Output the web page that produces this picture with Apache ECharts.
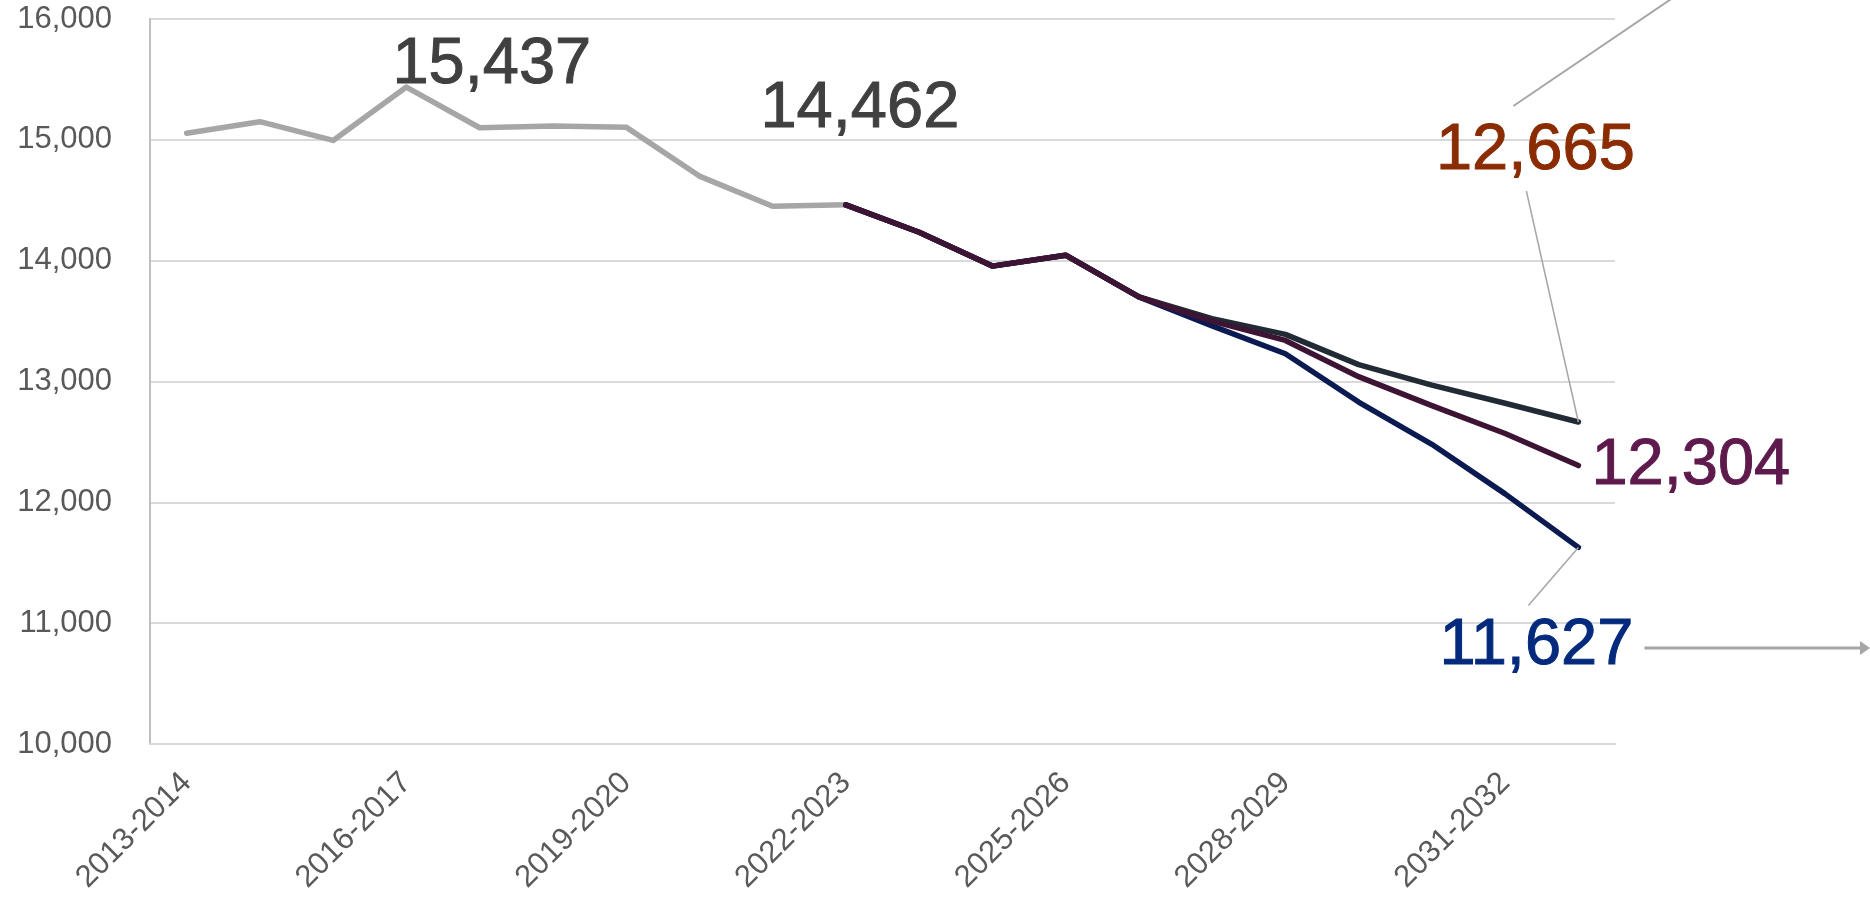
<!DOCTYPE html>
<html>
<head>
<meta charset="utf-8">
<script src="https://cdn.jsdelivr.net/npm/echarts@6/dist/echarts.min.js"></script>
<style>
html,body{margin:0;padding:0;background:#fff;}
#chart{width:1870px;height:900px;}
</style>
</head>
<body>
<div id="chart"></div>
<script>
const categories = ['2013-2014','2014-2015','2015-2016','2016-2017','2017-2018','2018-2019','2019-2020','2020-2021','2021-2022','2022-2023','2023-2024','2024-2025','2025-2026','2026-2027','2027-2028','2028-2029','2029-2030','2030-2031','2031-2032','2032-2033'];
const historical = [15055, 15150, 14995, 15437, 15100, 15115, 15105, 14700, 14450, 14462, null, null, null, null, null, null, null, null, null, null];
const projHigh = [null, null, null, null, null, null, null, null, null, 14462, 14235, 13955, 14045, 13700, 13520, 13390, 13140, 12970, 12820, 12665];
const projMid  = [null, null, null, null, null, null, null, null, null, 14462, 14235, 13955, 14045, 13700, 13500, 13340, 13040, 12800, 12570, 12304];
const projLow  = [null, null, null, null, null, null, null, null, null, 14462, 14235, 13955, 14045, 13700, 13460, 13230, 12830, 12480, 12070, 11627];
const yTicks = [10000, 11000, 12000, 13000, 14000, 15000, 16000];

const FONT = 'Liberation Sans';
const fmt = v => Number(v).toLocaleString('en-US');

function withLabels(arr, labels) {
  return arr.map((v, i) => {
    if (labels[i] && v != null) {
      const c = labels[i].color;
      return {
        value: v,
        symbol: 'circle',
        symbolSize: 1,
        label: Object.assign({ show: true, formatter: fmt(v), fontFamily: FONT, fontSize: 65, position: 'inside', verticalAlign: 'middle', textBorderColor: c, textBorderWidth: 1 }, labels[i])
      };
    }
    return { value: v, symbol: 'none' };
  });
}

const chart = echarts.init(document.getElementById('chart'), null, { renderer: 'canvas' });

const lastIdx = categories.length - 1;

function lineSeries(name, z, color, arr, labels) {
  return {
    name: name, type: 'line', z: z,
    symbol: 'circle', symbolSize: 1, showSymbol: true, showAllSymbol: true,
    itemStyle: { color: color },
    lineStyle: { color: color, width: 5.5, cap: 'round', join: 'round' },
    emphasis: { disabled: true },
    data: withLabels(arr, labels)
  };
}

const option = {
  animation: false,
  backgroundColor: '#ffffff',
  grid: { left: 150, right: 255, top: 19, bottom: 156, containLabel: false },
  xAxis: {
    type: 'category',
    data: categories,
    boundaryGap: true,
    axisLine: { show: true, lineStyle: { color: '#d9d9d9', width: 2 } },
    axisTick: { show: false },
    axisLabel: { interval: 2, rotate: 45, margin: 34, color: '#595959', fontFamily: FONT, fontSize: 31 },
    splitLine: { show: false }
  },
  yAxis: {
    type: 'value',
    min: yTicks[0],
    max: yTicks[yTicks.length - 1],
    interval: yTicks[1] - yTicks[0],
    axisLine: { show: true, lineStyle: { color: '#bfbfbf', width: 2 } },
    axisTick: { show: false },
    axisLabel: { margin: 38, color: '#595959', fontFamily: FONT, fontSize: 31, formatter: v => fmt(v) },
    splitLine: { show: true, lineStyle: { color: '#d9d9d9', width: 2 } }
  },
  series: [
    lineSeries('Historical', 2, '#a6a6a6', historical, { 3: { color: '#404040', align: 'left', offset: [-14, -22] } }),
    lineSeries('High', 3, '#222a35', projHigh, { [lastIdx]: { color: '#8a2b00', align: 'center', offset: [-43, -271] } }),
    lineSeries('Low', 4, '#0b1b52', projLow, { [lastIdx]: { color: '#032a7c', align: 'center', offset: [-42, 99] } }),
    lineSeries('Mid', 5, '#3e1434', projMid, {
      9: { color: '#404040', align: 'center', offset: [14, -96] },
      [lastIdx]: { color: '#5e1a4c', align: 'left', offset: [13, 0] }
    })
  ]
};

chart.setOption(option);

// Annotation connectors positioned from the chart's own scales
const pHigh = chart.convertToPixel({ gridIndex: 0 }, [lastIdx, projHigh[lastIdx]]);
const pLow = chart.convertToPixel({ gridIndex: 0 }, [lastIdx, projLow[lastIdx]]);
const gray = '#a6a6a6';
const arrowY = pLow[1] + 100.6;
chart.setOption({
  graphic: [
    { type: 'line', z: 10, shape: { x1: pHigh[0], y1: pHigh[1], x2: pHigh[0] - 52, y2: pHigh[1] - 231 }, style: { stroke: gray, lineWidth: 1.5 } },
    { type: 'line', z: 10, shape: { x1: pHigh[0] - 65, y1: pHigh[1] - 316, x2: pHigh[0] - 65 + 480, y2: pHigh[1] - 316 - 0.678 * 480 }, style: { stroke: gray, lineWidth: 2 } },
    { type: 'line', z: 10, shape: { x1: pLow[0], y1: pLow[1], x2: pLow[0] - 50, y2: pLow[1] + 58 }, style: { stroke: gray, lineWidth: 1.5 } },
    { type: 'line', z: 10, shape: { x1: pLow[0] + 66, y1: arrowY, x2: 1862, y2: arrowY }, style: { stroke: gray, lineWidth: 3 } },
    { type: 'polygon', z: 10, shape: { points: [[1860, arrowY - 7], [1870, arrowY], [1860, arrowY + 7]] }, style: { fill: gray } }
  ]
});
</script>
</body>
</html>
